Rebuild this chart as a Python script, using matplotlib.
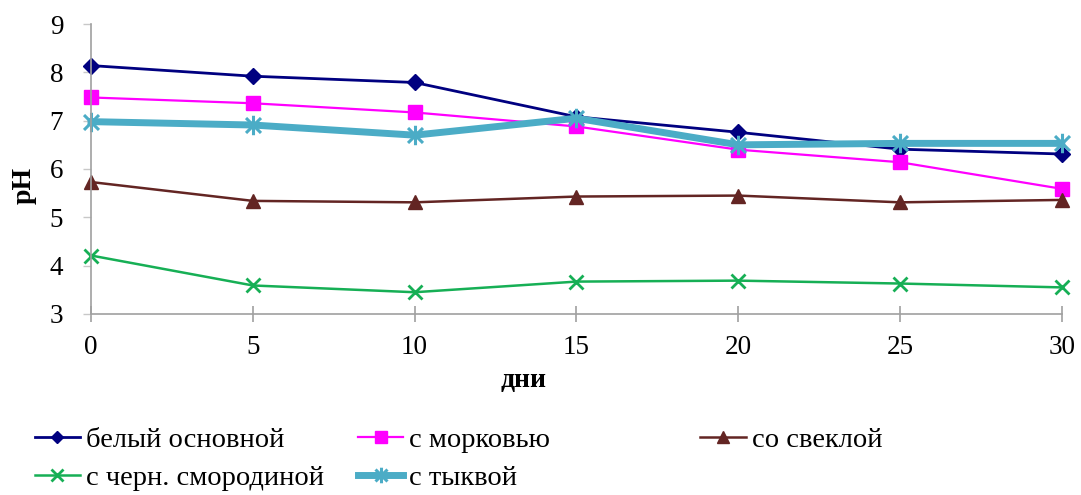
import matplotlib.pyplot as plt
from matplotlib.path import Path

plt.rcParams['font.family'] = ['Liberation Serif', 'DejaVu Serif']

days = [0, 5, 10, 15, 20, 25, 30]

belyi = [8.14, 7.92, 7.79, 7.08, 6.76, 6.41, 6.31]
morkov = [7.48, 7.36, 7.17, 6.88, 6.40, 6.14, 5.59]
svekla = [5.73, 5.34, 5.31, 5.43, 5.45, 5.31, 5.36]
smorodina = [4.21, 3.59, 3.45, 3.67, 3.69, 3.63, 3.55]
tykva = [6.98, 6.91, 6.70, 7.05, 6.50, 6.53, 6.53]

labels = ["белый основной", "с морковью", "со свеклой",
          "с черн. смородиной", "с тыквой"]

# asterisk-like marker: an x with a vertical stroke
star = Path([(-1, -1), (1, 1), (-1, 1), (1, -1), (0, -1.3), (0, 1.3)],
            [Path.MOVETO, Path.LINETO, Path.MOVETO, Path.LINETO,
             Path.MOVETO, Path.LINETO])

fig = plt.figure(figsize=(10.81, 4.95), dpi=100)
ax = fig.add_axes([0.0842, 0.3657, 0.898, 0.5858])

l1, = ax.plot(days, belyi, color='#000080', lw=2, marker='D', ms=8)
l2, = ax.plot(days, morkov, color='#FF00FF', lw=1.6, marker='s', ms=10)
l3, = ax.plot(days, svekla, color='#632523', lw=1.8, marker='^', ms=10)
l4, = ax.plot(days, smorodina, color='#16AF55', lw=1.8, marker='x', ms=10,
              mew=2)
l5, = ax.plot(days, tykva, color='#4BACC6', lw=5, marker=star, ms=14,
              mew=2.2)
handles = [l1, l2, l3, l4, l5]
for ln in handles:
    ln.set_clip_on(False)

ax.set_xlim(0, 30)
ax.set_ylim(3, 9)
ax.set_xticks(days)
ax.set_yticks(range(3, 10))

for s in ('top', 'right'):
    ax.spines[s].set_visible(False)
for s in ('left', 'bottom'):
    ax.spines[s].set_color('#A0A0A0')
    ax.spines[s].set_linewidth(1.2)

ax.tick_params(axis='x', direction='inout', length=12, width=1.2,
               color='#A0A0A0', labelsize=19.5, pad=9)
ax.tick_params(axis='y', direction='out', length=6, width=1,
               color='#C8C8C8', labelsize=19.5, pad=14)

ax.set_xlabel("дни", fontsize=20, fontweight='bold')
ax.set_ylabel("pH", fontsize=20, fontweight='bold')
ax.xaxis.set_label_coords(0.446, -0.188)
ax.yaxis.set_label_coords(-0.056, 0.445)

# legend laid out in three columns under the chart
cols = [([0, 3], 0.032), ([1, 4], 0.331), ([2], 0.648)]
for idx, x0 in cols:
    fig.legend([handles[i] for i in idx], [labels[i] for i in idx],
               loc='upper left', bbox_to_anchor=(x0, 0.138),
               frameon=False, fontsize=20.5, handlelength=1.6,
               handletextpad=0.2, labelspacing=0.45, borderaxespad=0,
               borderpad=0, markerscale=0.8)

fig.savefig('out.png', dpi=100)
